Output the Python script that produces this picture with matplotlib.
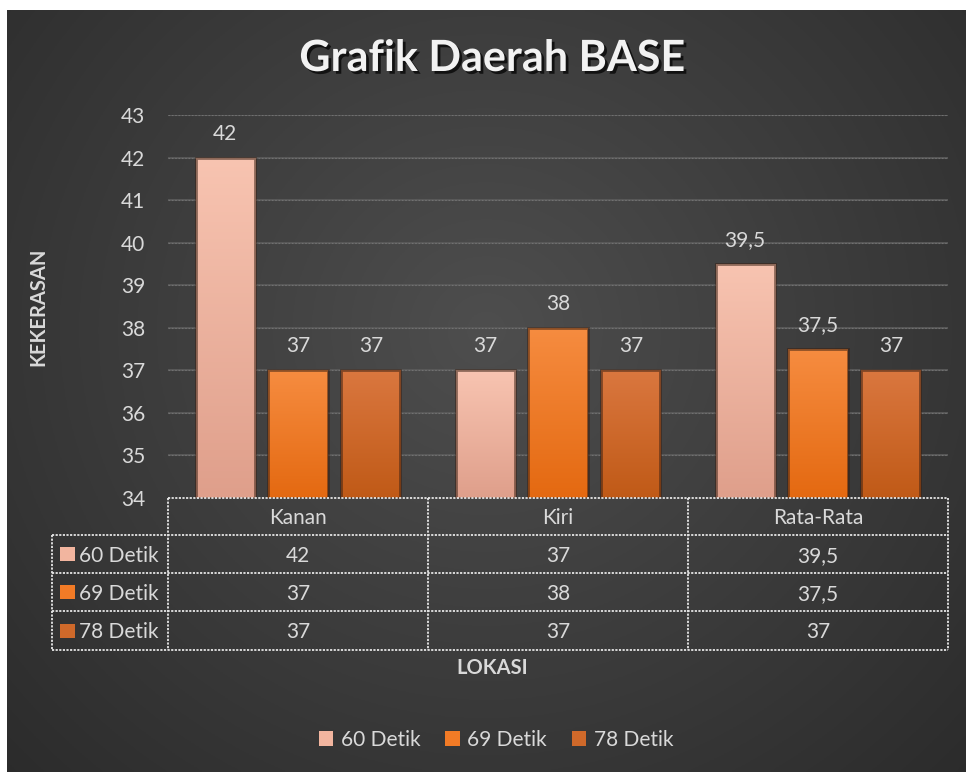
import numpy as np
import matplotlib
matplotlib.use("Agg")
import matplotlib.pyplot as plt
import matplotlib.patheffects as pe
from matplotlib.patches import Patch, Rectangle
from matplotlib.lines import Line2D

# ---------------- data ----------------
categories = ["Kanan", "Kiri", "Rata-Rata"]
series_names = ["60 Detik", "69 Detik", "78 Detik"]
values_60 = [42, 37, 39.5]
values_69 = [37, 38, 37.5]
values_78 = [37, 37, 37]
y_ticks = [34, 35, 36, 37, 38, 39, 40, 41, 42, 43]
title = "Grafik Daerah BASE"
x_label = "LOKASI"
y_label = "KEKERASAN"

series_values = [values_60, values_69, values_78]
top_colors = ["#f8c4b1", "#f68c40", "#da773f"]
bot_colors = ["#df9f8b", "#e46911", "#c05a17"]
mid_colors = ["#f2b59f", "#f27b26", "#cf692a"]

W, H = 966, 772
DPI = 100
FONT = ["Lato", "DejaVu Sans"]
TXT = "#d9d9d9"
FS = 15

plt.rcParams["font.family"] = FONT

fig = plt.figure(figsize=(W / DPI, H / DPI), dpi=DPI)
fig.patch.set_facecolor("white")


def fx(x):
    return x / W


def fy(y):
    return 1 - y / H


# ---------------- background ----------------
bg = fig.add_axes([fx(7), 0, 1 - fx(7), fy(10)], zorder=-10)
bg.set_axis_off()
gx = np.linspace(0, 1, 400)
gy = np.linspace(0, 1, 320)
GX, GY = np.meshgrid(gx, gy)
r = np.sqrt(((GX - 0.5) / 0.75) ** 2 + ((GY - 0.42) / 0.9) ** 2)
r = np.clip(r, 0, 1)
c_in = np.array([0x4e, 0x4e, 0x4e]) / 255
c_out = np.array([0x29, 0x29, 0x29]) / 255
img = c_in[None, None, :] * (1 - r[..., None]) + c_out[None, None, :] * r[..., None]
bg.imshow(img, extent=[0, 1, 0, 1], aspect="auto", origin="upper")
bg.set_xlim(0, 1)
bg.set_ylim(0, 1)

# ---------------- main axes ----------------
L, R, T, B = 168, 948, 115, 498
ax = fig.add_axes([fx(L), fy(B), fx(R) - fx(L), fy(T) - fy(B)])
ax.set_facecolor("none")
for s in ax.spines.values():
    s.set_visible(False)

n = len(categories)
xpos = np.arange(n)
bw = 0.227
offs = [-0.28, 0.0, 0.28]

for yt in y_ticks[1:]:
    ax.axhline(yt, color="#5a5a5a", lw=1.3, zorder=0.5)
    ax.axhline(yt, color="#8a8a8a", lw=0.8, ls=(0, (1.5, 1.5)), zorder=0.6, alpha=0.5)

for si, vals in enumerate(series_values):
    bars = ax.bar(xpos + offs[si], [v - 34 for v in vals], bw, bottom=34,
                  color=mid_colors[si], zorder=2, edgecolor="none")
    for b, v in zip(bars, vals):
        x0 = b.get_x()
        x1 = x0 + b.get_width()
        grad = np.linspace(0, 1, 100)[:, None]
        tc = np.array(matplotlib.colors.to_rgb(top_colors[si]))
        bc = np.array(matplotlib.colors.to_rgb(bot_colors[si]))
        gimg = tc[None, None, :] * (1 - grad[..., None]) + bc[None, None, :] * grad[..., None]
        gimg = np.repeat(gimg, 2, axis=1)
        im = ax.imshow(gimg, extent=[x0, x1, 34, v], aspect="auto", origin="upper", zorder=3)
        im.set_clip_path(b)
        ax.add_patch(Rectangle((x0, 34), x1 - x0, v - 34, fill=False,
                               edgecolor=(0.22, 0.12, 0.07, 0.55), lw=2.0, zorder=4))
        lbl = str(v).replace(".", ",") if v != int(v) else str(int(v))
        ax.annotate(lbl, (b.get_x() + b.get_width() / 2, v), xytext=(0, 13),
                    textcoords="offset points", ha="center", va="baseline",
                    color=TXT, fontsize=FS, zorder=5)

ax.set_xlim(-0.5, n - 0.5)
ax.set_ylim(34, 43)
ax.set_yticks(y_ticks)
ax.set_xticks([])
ax.tick_params(axis="y", length=0, pad=16.5, labelsize=FS, labelcolor=TXT)

# ---------------- data table ----------------
col_x = [168, 428, 688, 948]
row_y = [498, 535, 573, 611, 650]
lbl_left = 52
tab_col = "#e6e6e6"
ls_tab = (0, (1.2, 0.8))


def hline(y, x0, x1):
    fig.add_artist(Line2D([fx(x0), fx(x1)], [fy(y), fy(y)], color=tab_col, lw=1.3, ls=ls_tab))


def vline(x, y0, y1):
    fig.add_artist(Line2D([fx(x), fx(x)], [fy(y0), fy(y1)], color=tab_col, lw=1.3, ls=ls_tab))


hline(row_y[0], col_x[0], col_x[-1])
for yy in row_y[1:]:
    hline(yy, lbl_left, col_x[-1])
for xx in col_x:
    vline(xx, row_y[0], row_y[-1])
vline(lbl_left, row_y[1], row_y[-1])

for ci, cat in enumerate(categories):
    cx = (col_x[ci] + col_x[ci + 1]) / 2
    fig.text(fx(cx), fy((row_y[0] + row_y[1]) / 2), cat, ha="center", va="center_baseline",
             color=TXT, fontsize=FS)
    for si, vals in enumerate(series_values):
        v = vals[ci]
        lbl = str(v).replace(".", ",") if v != int(v) else str(int(v))
        fig.text(fx(cx), fy((row_y[si + 1] + row_y[si + 2]) / 2), lbl, ha="center",
                 va="center_baseline", color=TXT, fontsize=FS)

for si, name in enumerate(series_names):
    yc = (row_y[si + 1] + row_y[si + 2]) / 2
    fig.add_artist(Rectangle((fx(60), fy(yc + 7)), fx(15), fy(yc - 7) - fy(yc + 7),
                             facecolor=mid_colors[si], edgecolor="none"))
    fig.text(fx(79), fy(yc), name, ha="left", va="center_baseline", color=TXT, fontsize=FS)

# ---------------- labels ----------------
ttl = fig.text(fx(492), fy(58), title, ha="center", va="center", color="#f2f2f2",
               fontsize=31, fontweight="bold")
ttl.set_path_effects([pe.withSimplePatchShadow(offset=(2, -2), shadow_rgbFace="black", alpha=0.7)])

fig.text(fx(492), fy(668), x_label, ha="center", va="center", color=TXT, fontsize=14.5,
         fontweight="bold")
fig.text(fx(38), fy(307), y_label, ha="center", va="center", color=TXT, fontsize=14.5,
         fontweight="bold", rotation=90)

handles = [Patch(facecolor=mid_colors[i], edgecolor="none") for i in range(3)]
fig.legend(handles, series_names, loc="center", bbox_to_anchor=(fx(496), fy(740)), ncol=3,
           frameon=False, fontsize=FS, labelcolor=TXT, handlelength=0.7, handleheight=0.7,
           handletextpad=0.35, columnspacing=1.2)

fig.savefig("out.png", dpi=DPI)
